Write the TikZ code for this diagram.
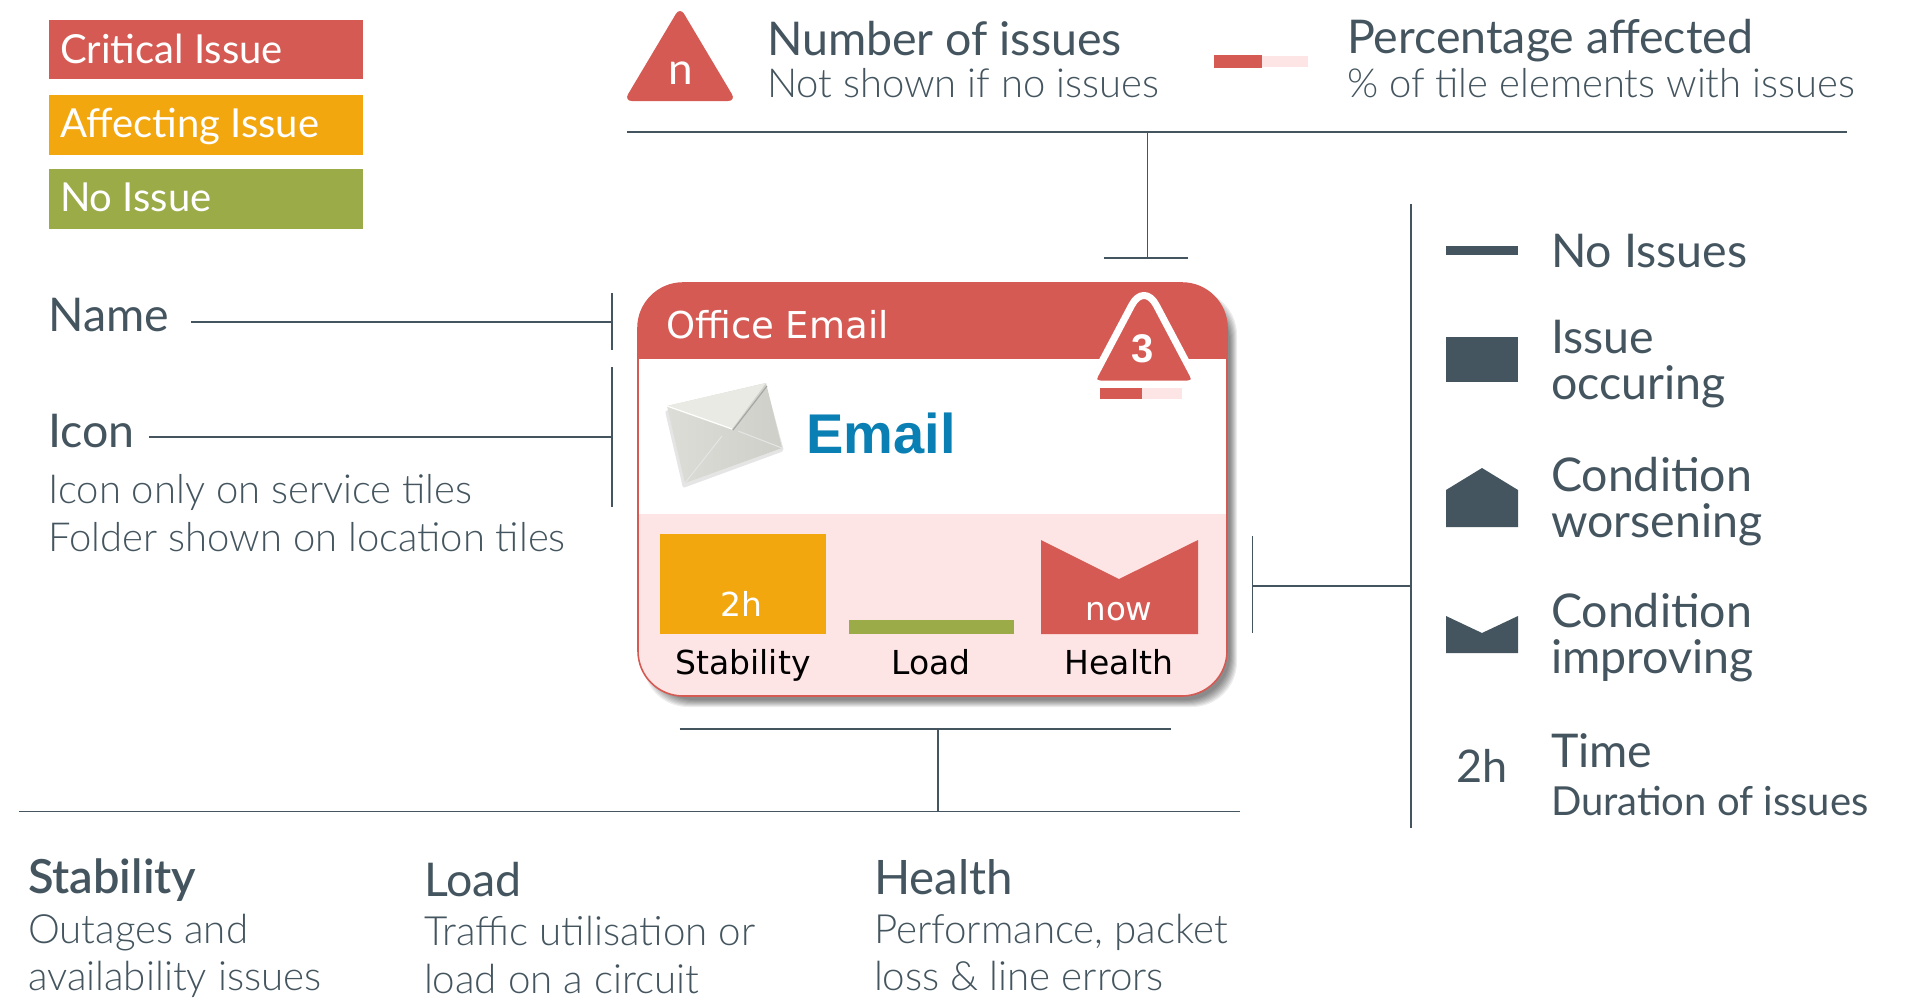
\documentclass[tikz,border=0pt]{standalone}
\usepackage{fontspec}
\setmainfont{Lato}
\newfontfamily\lightfont{Lato}[UprightFont=* Light]
\newfontfamily\semifont{Lato}[UprightFont=* Semibold]
\newfontfamily\tilefont{DejaVu Sans}
\newfontfamily\arialfont{Liberation Sans}
\definecolor{ink}{HTML}{44555F}
\definecolor{critred}{HTML}{D55A54}
\definecolor{amber}{HTML}{F3A70F}
\definecolor{okgreen}{HTML}{9AAB48}
\definecolor{palepink}{HTML}{FEE5E5}
\definecolor{mailblue}{HTML}{0A7FB4}
\definecolor{envbody}{HTML}{DCDDD6}
\definecolor{envlight}{HTML}{E9EAE4}
\newcommand{\fs}[1]{\fontsize{#1pt}{#1pt}\selectfont}
\tikzset{
  x=1pt,y=-1pt,
  txt/.style={anchor=base west,inner sep=0pt,outer sep=0pt,text=ink,font=\fs{46.5}},
  thin txt/.style={txt,font=\lightfont\fs{40.3}},
  leg txt/.style={txt,text=white,font=\fs{40}},
  tile txt/.style={anchor=base,inner sep=0pt,outer sep=0pt,text=black,font=\tilefont\fs{33}},
  tile white/.style={tile txt,text=white},
  rule/.style={draw=ink,line width=1.3pt},
  legbox/.style={anchor=north west,inner sep=0pt,minimum width=314pt,minimum height=59.5pt},
}
\begin{document}
\begin{tikzpicture}
\useasboundingbox (0,0) rectangle (1907,997);
\fill[white] (0,0) rectangle (1907,997);
% severity legend
\node[legbox,fill=critred] (bcrit) at (48.5,19.5) {};
\node[legbox,fill=amber] (baff) at (48.5,95) {};
\node[legbox,fill=okgreen] (bno) at (48.5,169) {};
\node[leg txt] (tcrit) at (60,63) {Critical Issue};
\node[leg txt] (taff) at (60,137) {Affecting Issue};
\node[leg txt] (tno) at (60,211.5) {No Issue};
% top legend
\fill[critred,rounded corners=8pt] (680,7) -- (736,101) -- (624,101) -- cycle;
\node[anchor=base,inner sep=0pt,text=white,font=\fs{44}] (tn) at (681,84) {n};
\node[txt] (tnum) at (767,55) {Number of issues};
\node[thin txt,font=\lightfont\fs{40}] (tnot) at (767,97) {Not shown if no issues};
\fill[critred] (1214,55) rectangle (1262,68);
\fill[palepink] (1262,56) rectangle (1307.5,67);
\node[txt] (tpct) at (1347,53) {Percentage affected};
\node[thin txt,font=\lightfont\fs{40}] (tof) at (1347,97) {\% of tile elements with issues};
% card
\foreach \d in {0,1,...,7}{
  \fill[black,opacity=0.07,rounded corners=45pt] (643+\d,290+\d) rectangle (1237-\d,707-\d);
}
\begin{scope}
  \clip[rounded corners=45pt] (638,283) rectangle (1227,696);
  \fill[white] (638,283) rectangle (1227,514);
  \fill[critred] (638,283) rectangle (1227,359);
  \fill[palepink] (638,514) rectangle (1227,696);
\end{scope}
\draw[critred,line width=1.6pt,rounded corners=45pt] (638,283) rectangle (1227,696);
\node[anchor=base west,inner sep=0pt,text=white,font=\tilefont\fs{37}] (toffice) at (666,338) {Office Email};
% badge
\draw[white,fill=critred,line width=7pt,line join=round]
  (1144,384) [rounded corners=10pt] -- (1090,384) [rounded corners=26pt] -- (1144,282) [rounded corners=10pt] -- (1198,384) [sharp corners] -- cycle;
\node[anchor=base,inner sep=0pt,text=white,font=\arialfont\bfseries\fs{40}] (tthree) at (1143,362) {3};
\fill[critred] (1100,388) rectangle (1141.5,399);
\fill[palepink] (1141.5,388) rectangle (1182,399);
% envelope icon
\fill[black,opacity=0.10,rounded corners=2pt] (665,411) -- (766,385) -- (784,451) -- (683,488) -- cycle;
\shade[left color=envbody,right color=envbody!85!gray] (667,406) -- (766,383) -- (782,448) -- (685,483) -- cycle;
\fill[envlight] (667,406) -- (766,383) -- (732,429) -- cycle;
\draw[white,line width=1.2pt] (667,406) -- (732,429);
\draw[gray!70,line width=1.2pt] (733,430) -- (767,386);
\draw[white!80!gray,line width=1pt] (685,483) -- (722,436);
\draw[white!80!gray,line width=1pt] (782,448) -- (738,431);
\node[anchor=base west,inner sep=0pt,text=mailblue,font=\arialfont\bfseries\fs{56}] (temail) at (806,453) {Email};
% gauges
\fill[amber] (660,534) rectangle (825.5,634);
\fill[okgreen] (849,620) rectangle (1014,634);
\fill[critred] (1041,540) -- (1119,579) -- (1198,540) -- (1198,634) -- (1041,634) -- cycle;
\node[tile white] (t2h) at (741,616) {2h};
\node[tile white,font=\tilefont\fs{32.5}] (tnow) at (1119,620) {now};
\node[tile txt] (tstab) at (743,674) {Stability};
\node[tile txt] (tload) at (931,674) {Load};
\node[tile txt] (thealth) at (1119,674) {Health};
% left labels
\node[txt] (tname) at (48.5,331) {Name};
\node[txt] (ticon) at (48.5,447) {Icon};
\node[thin txt,font=\lightfont\fs{40}] (ticon1) at (48.5,503) {Icon only on service tiles};
\node[thin txt,font=\lightfont\fs{40}] (ticon2) at (48.5,551) {Folder shown on location tiles};
% right legend
\fill[ink] (1446,246) rectangle (1518,255);
\fill[ink] (1446,337) rectangle (1518,382);
\fill[ink] (1446,490) -- (1482,468) -- (1518,490) -- (1518,527) -- (1446,527) -- cycle;
\fill[ink] (1446,616) -- (1482,633) -- (1518,616) -- (1518,653) -- (1446,653) -- cycle;
\node[txt] (tni) at (1551,267) {No Issues};
\node[txt] (tio) at (1551,353) {Issue};
\node[txt] (tio2) at (1551,399) {occuring};
\node[txt] (tcw) at (1551,491) {Condition};
\node[txt] (tcw2) at (1551,537) {worsening};
\node[txt] (tci) at (1551,627) {Condition};
\node[txt] (tci2) at (1551,673) {improving};
\node[txt] (ttime) at (1551,767) {Time};
\node[txt,font=\fs{40}] (tdur) at (1551,815) {Duration of issues};
\node[txt,font=\fs{45}] (t2hl) at (1456,782) {2h};
% bottom labels
\node[txt,font=\semifont\fs{47}] (bstab) at (28,893) {Stability};
\node[thin txt] (bstab1) at (28,943) {Outages and};
\node[thin txt] (bstab2) at (28,990) {availability issues};
\node[txt] (bload) at (424,896) {Load};
\node[thin txt] (bload1) at (424,945) {Traffic utilisation or};
\node[thin txt] (bload2) at (424,993) {load on a circuit};
\node[txt,font=\fs{47.5}] (bhealth) at (874,894) {Health};
\node[thin txt] (bhealth1) at (874,943) {Performance, packet};
\node[thin txt] (bhealth2) at (874,990) {loss \& line errors};
% connector coordinates
\coordinate (topL) at (627,132); \coordinate (topR) at (1847,132);
\coordinate (topM) at (1147.5,132); \coordinate (topT) at (1147.5,258);
\coordinate (tbarL) at (1103.5,258); \coordinate (tbarR) at (1188,258);
\coordinate (nameS) at (191,322); \coordinate (nameE) at (612,322);
\coordinate (nameA) at (612,293); \coordinate (nameB) at (612,350);
\coordinate (iconS) at (149,437); \coordinate (iconE) at (612,437);
\coordinate (iconA) at (612,367); \coordinate (iconB) at (612,507);
\coordinate (rA) at (1252.5,536); \coordinate (rB) at (1252.5,633);
\coordinate (rM) at (1252.5,586); \coordinate (rE) at (1411,586);
\coordinate (rU) at (1411,204); \coordinate (rD) at (1411,828);
\coordinate (botA) at (679.5,729); \coordinate (botB) at (1171,729);
\coordinate (botM) at (938,729); \coordinate (botN) at (938,811.5);
\coordinate (lowL) at (19,811.5); \coordinate (lowR) at (1240,811.5);
% connectors
\draw[rule] (topL) -- (topR);
\draw[rule] (topM) -- (topT);
\draw[rule] (tbarL) -- (tbarR);
\draw[rule] (nameS) -- (nameE);
\draw[rule] (nameA) -- (nameB);
\draw[rule] (iconS) -- (iconE);
\draw[rule] (iconA) -- (iconB);
\draw[rule] (rA) -- (rB);
\draw[rule] (rM) -- (rE);
\draw[rule] (rU) -- (rD);
\draw[rule] (botA) -- (botB);
\draw[rule] (botM) -- (botN);
\draw[rule] (lowL) -- (lowR);
\end{tikzpicture}
\end{document}
